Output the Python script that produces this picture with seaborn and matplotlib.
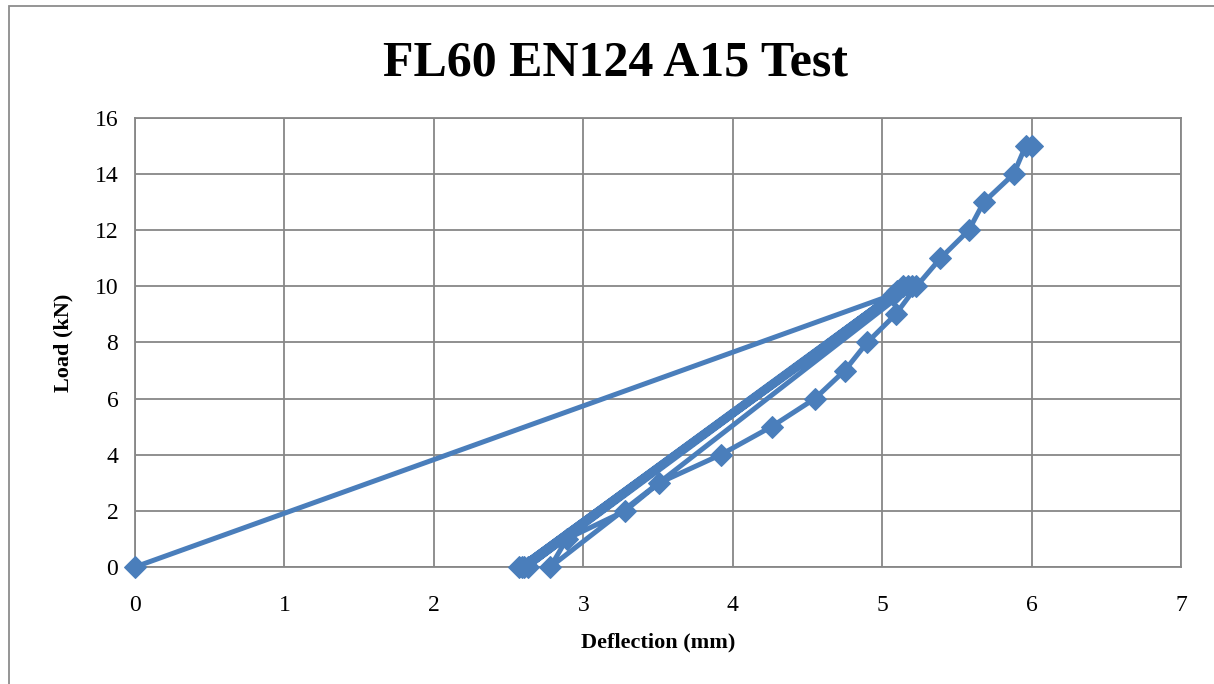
import seaborn as sns
import matplotlib.pyplot as plt
import pandas as pd
from matplotlib.patches import Rectangle

# 데이터
deflection = [0, 5.07, 2.57, 5.10, 2.60, 5.14, 2.63, 5.17, 2.59, 5.20,
              2.78, 2.89, 3.28, 3.51, 3.92, 4.26, 4.55, 4.75, 4.90, 5.09,
              5.23, 5.39, 5.58, 5.68, 5.88, 5.96, 6.00]
load = [0, 9.7, 0, 9.85, 0, 10, 0, 10, 0, 10,
        0, 1, 2, 3, 4, 5, 6, 7, 8, 9,
        10, 11, 12, 13, 14, 15, 15]
x_ticks = [0, 1, 2, 3, 4, 5, 6, 7]
y_ticks = [0, 2, 4, 6, 8, 10, 12, 14, 16]

df = pd.DataFrame({'Deflection': deflection, 'Load': load})

sns.set_style("white")
plt.rcParams['font.family'] = ['Liberation Serif', 'DejaVu Serif']
plt.rcParams['text.color'] = 'black'
plt.rcParams['axes.labelcolor'] = 'black'

fig = plt.figure(figsize=(12.14, 6.84), dpi=100)
ax = fig.add_axes([0.1112, 0.1711, 0.8616, 0.6564])

blue = '#4A7EBB'
grid_c = '#878787'

sns.lineplot(data=df, x='Deflection', y='Load', sort=False, estimator=None,
             color=blue, linewidth=3.6, marker='D', markersize=11,
             markeredgecolor=blue, ax=ax, zorder=3, clip_on=False)

ax.set_xlim(0, 7)
ax.set_ylim(0, 16)
ax.set_xticks(x_ticks)
ax.set_yticks(y_ticks)
ax.grid(True, color=grid_c, linewidth=1.3)
for s in ax.spines.values():
    s.set_color(grid_c)
    s.set_linewidth(1.3)
ax.tick_params(axis='both', direction='out', length=6, width=1.3, color=grid_c,
               labelcolor='black', labelsize=17, pad=6)
ax.tick_params(axis='x', pad=14)

ax.set_xlabel('Deflection (mm)', fontsize=16, fontweight='bold', labelpad=12)
ax.set_ylabel('Load (kN)', fontsize=16, fontweight='bold', labelpad=15)
fig.text(0.507, 0.907, 'FL60 EN124 A15 Test', ha='center', va='center',
         fontsize=36, fontweight='bold')

# 차트 영역 테두리
fig.patches.append(Rectangle((9 / 1214, -0.1), 1.2, 1.1 - 6 / 684, transform=fig.transFigure,
                             fill=False, edgecolor='#8c8c8c', linewidth=1.3))

plt.savefig('out.png', dpi=100)
